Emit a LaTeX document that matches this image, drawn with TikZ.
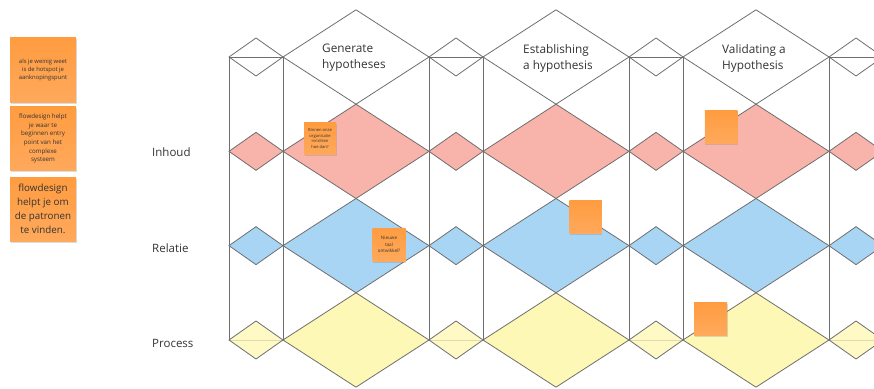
\documentclass[tikz,border=0pt]{standalone}
\usepackage{fontspec}
\setmainfont{Open Sans}
\usetikzlibrary{shadows}
\definecolor{edge}{HTML}{6E6E6E}
\definecolor{rose}{HTML}{F8B4AA}
\definecolor{sky}{HTML}{A9D5F5}
\definecolor{lemon}{HTML}{FEF8B6}
\definecolor{stickytop}{HTML}{FF9C40}
\definecolor{stickybottom}{HTML}{FFA95C}
\definecolor{ink}{HTML}{333333}
\begin{document}
\begin{tikzpicture}[x=1pt,y=-1pt,
  gridline/.style={draw=edge,line width=0.8pt,line join=miter},
  sticky/.style={rectangle,inner sep=0pt,minimum width=#1,minimum height=#1,
    top color=stickytop,bottom color=stickybottom,draw=none,
    drop shadow={opacity=0.28,shadow xshift=0.6pt,shadow yshift=-1.8pt},
    align=center,text=ink},
  rowlabel/.style={anchor=west,inner sep=0pt,font=\fontsize{11.5}{14}\selectfont,text=ink},
  phase/.style={anchor=west,inner sep=0pt,align=left,font=\fontsize{11.8}{16}\selectfont,text=ink}]
\useasboundingbox (0,0) rectangle (874,388);
\clip (0,0) rectangle (874,388);

% narrow columns: frame lines at the top and bottom row axes and the two sides
\foreach \k in {0,1,2,3}{
  \draw[gridline] (229+200*\k,57) rectangle (283+200*\k,340);
}

% filled diamonds of the three rows (wide and narrow columns)
\foreach \r/\col in {1/rose,2/sky,3/lemon}{
  \foreach \k in {0,1,2}{
    \fill[\col] (356+200*\k,57+94.33*\r-47.17) -- ++(73,47.17) -- ++(-73,47.17) -- ++(-73,-47.17) -- cycle;
  }
}
\foreach \r/\col/\op in {1/rose/1,2/sky/1,3/lemon/0.8}{
  \foreach \k in {0,1,2,3}{
    \fill[\col,fill opacity=\op] (256+200*\k,57+94.33*\r-19) -- ++(27,19) -- ++(-27,19) -- ++(-27,-19) -- cycle;
  }
}

% diamond outlines
\foreach \r in {0,1,2,3}{
  \foreach \k in {0,1,2}{
    \draw[gridline] (356+200*\k,57+94.33*\r-47.17) -- ++(73,47.17) -- ++(-73,47.17) -- ++(-73,-47.17) -- cycle;
  }
  \foreach \k in {0,1,2,3}{
    \draw[gridline] (256+200*\k,57+94.33*\r-19) -- ++(27,19) -- ++(-27,19) -- ++(-27,-19) -- cycle;
  }
}

% phase titles
\node[phase] (genhyp) at (322,58) {Generate\\hypotheses};
\node[phase] (esthyp) at (523,58) {Establishing\\a hypothesis};
\node[phase] (valhyp) at (722,58) {Validating a\\Hypothesis};

% row titles
\node[rowlabel] (inhoud) at (152,152) {Inhoud};
\node[rowlabel] (relatie) at (152,248) {Relatie};
\node[rowlabel] (process) at (152,343) {Process};

% sticky notes on the left
\node[sticky=65,minimum width=66,font=\fontsize{5.9}{8}\selectfont] (note1) at (43,70)
  {als je weinig weet\\is de hotspot je\\aanknopingspunt};
\node[sticky=64,minimum width=66,font=\fontsize{6.2}{8.6}\selectfont] (note2) at (43,138.5)
  {flowdesign helpt\\je waar te\\beginnen entry\\point van het\\complexe\\systeem};
\node[sticky=64,minimum width=66,font=\fontsize{9.8}{14.2}\selectfont] (note3) at (43,209)
  {flowdesign\\helpt je om\\de patronen\\te vinden.};

% small notes on the canvas
\node[sticky=32,font=\fontsize{4.1}{5.6}\selectfont] (note4) at (320,138.5)
  {Binnen onze\\organisatie\\inrichten\\hoe dan?};
\node[sticky=33,font=\fontsize{4.6}{6.6}\selectfont] (note5) at (389,244.5)
  {Nieuwe\\taal\\ontwikkel?};
\node[sticky=32.5] (note6) at (585.5,217) {};
\node[sticky=32.5] (note7) at (721,127) {};
\node[sticky=33] (note8) at (710.5,318.5) {};
\end{tikzpicture}
\end{document}
